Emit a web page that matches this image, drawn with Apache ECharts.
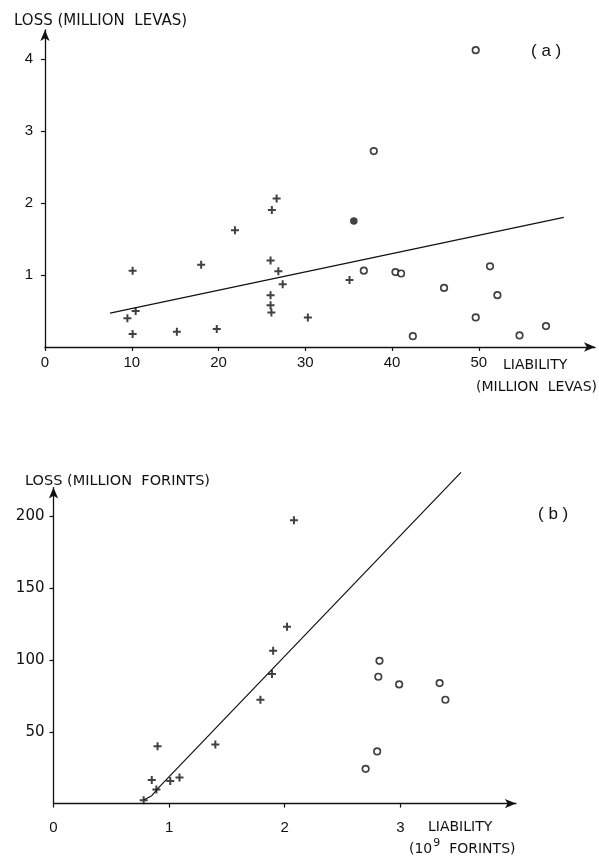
<!DOCTYPE html>
<html>
<head>
<meta charset="utf-8">
<script src="https://cdn.jsdelivr.net/npm/echarts@6/dist/echarts.min.js"></script>
<style>
html,body{margin:0;padding:0;background:#fff;}
#c{width:599px;height:863px;}
</style>
</head>
<body>
<div id="c"></div>
<script>
// ---- Panel (a): Bulgaria, million levas ----
const crossA = [
  [9.5,0.40],[10.1,0.18],[10.1,1.06],[10.45,0.50],[15.2,0.21],[18.0,1.14],
  [19.8,0.25],[21.9,1.62],[26.0,1.20],[26.15,1.90],[26.7,2.06],[26.9,1.05],
  [26.0,0.72],[26.0,0.58],[26.1,0.48],[27.4,0.87],[30.3,0.41],[35.1,0.93]
];
const filledA = [[35.6,1.75]];
const openA = [
  [36.75,1.06],[37.9,2.72],[40.4,1.04],[41.05,1.02],[42.4,0.15],[46.0,0.82],
  [49.65,4.12],[49.65,0.41],[51.3,1.12],[52.15,0.72],[54.7,0.16],[57.75,0.29]
];
const lineA = [[7.5,0.47],[59.8,1.80]];
const xTicksA = [0,10,20,30,40,50];
const yTicksA = [1,2,3,4];

// ---- Panel (b): Hungary, million forints ----
const crossB = [
  [0.78,2.4],[0.85,16.4],[0.89,9.9],[0.90,40],[1.01,15.7],[1.09,18.2],
  [1.40,41.2],[1.79,72.3],[1.89,90.2],[1.90,106.4],[2.02,123.1],[2.08,197.2]
];
const openB = [
  [2.82,99.4],[2.81,88.3],[2.99,83.0],[3.34,83.9],[3.39,72.3],[2.80,36.3],[2.70,24.2]
];
const lineB = [[0.78,2.5],[0.85,5.5],[0.92,12],[3.525,230.6]];
const xTicksB = [0,1,2,3];
const yTicksB = [50,100,150,200];

const INK = '#111';
const FONT = 'Liberation Sans';
const plus = 'path://M3,0H5V3H8V5H5V8H3V5H0V3H3Z';

function axisCommon(ticks, margin, min, max, font, size) {
  return {
    type: 'value', min: min, max: max,
    splitLine: {show: false},
    axisLine: {show: true, onZero: false, symbol: ['none','arrow'], symbolSize: [7,11],
      lineStyle: {color: INK, width: 1.3}},
    axisTick: {show: true, length: 4, customValues: ticks, lineStyle: {color: INK, width: 1.2}},
    axisLabel: {show: true, customValues: ticks, margin: margin, color: INK,
      fontFamily: font || FONT, fontSize: size || 15}
  };
}

const titleFont = '14px "DejaVu Sans"';

const chart = echarts.init(document.getElementById('c'));
chart.setOption({
  backgroundColor: '#fff',
  animation: false,
  grid: [
    {left: 45, top: 30, width: 550, height: 317},
    {left: 53.5, top: 487.6, width: 462.4, height: 316}
  ],
  xAxis: [
    Object.assign(axisCommon(xTicksA, 8, 0, 63.4), {gridIndex: 0}),
    Object.assign(axisCommon(xTicksB, 17, 0, 4), {gridIndex: 1})
  ],
  yAxis: [
    Object.assign(axisCommon(yTicksA, 12, 0, 4.4), {gridIndex: 0}),
    Object.assign(axisCommon(yTicksB, 9, 0, 220, 'DejaVu Sans', 15), {gridIndex: 1})
  ],
  series: [
    {type: 'line', xAxisIndex: 0, yAxisIndex: 0, data: lineA, showSymbol: false, clip: false,
      lineStyle: {color: INK, width: 1.2}, silent: true},
    {type: 'scatter', xAxisIndex: 0, yAxisIndex: 0, data: crossA, symbol: plus, symbolSize: 8,
      itemStyle: {color: INK}},
    {type: 'scatter', xAxisIndex: 0, yAxisIndex: 0, data: openA, symbol: 'circle', symbolSize: 6.5,
      itemStyle: {color: '#fff', borderColor: INK, borderWidth: 1.7}},
    {type: 'scatter', xAxisIndex: 0, yAxisIndex: 0, data: filledA, symbol: 'circle', symbolSize: 7.5,
      itemStyle: {color: INK}},
    {type: 'line', xAxisIndex: 1, yAxisIndex: 1, data: lineB, showSymbol: false, clip: false,
      lineStyle: {color: INK, width: 1.2}, silent: true},
    {type: 'scatter', xAxisIndex: 1, yAxisIndex: 1, data: crossB, symbol: plus, symbolSize: 8,
      itemStyle: {color: INK}},
    {type: 'scatter', xAxisIndex: 1, yAxisIndex: 1, data: openB, symbol: 'circle', symbolSize: 6.5,
      itemStyle: {color: '#fff', borderColor: INK, borderWidth: 1.7}}
  ],
  graphic: [
    {type: 'text', x: 14, y: 21, style: {text: 'LOSS (MILLION  LEVAS)', fill: INK,
      font: '15px "DejaVu Sans"', textVerticalAlign: 'middle'}},
    {type: 'text', x: 531, y: 51, style: {text: '( a )', fill: INK,
      font: '17px "Liberation Sans"', textVerticalAlign: 'middle'}},
    {type: 'text', x: 503, y: 365, style: {text: 'LIABILITY', fill: INK,
      font: titleFont, textVerticalAlign: 'middle'}},
    {type: 'text', x: 597, y: 387, style: {text: '(MILLION  LEVAS)', fill: INK,
      font: titleFont, textAlign: 'right', textVerticalAlign: 'middle'}},
    {type: 'text', x: 25, y: 481, style: {text: 'LOSS (MILLION  FORINTS)', fill: INK,
      font: '14.5px "DejaVu Sans"', textVerticalAlign: 'middle'}},
    {type: 'text', x: 538, y: 514, style: {text: '( b )', fill: INK,
      font: '17px "Liberation Sans"', textVerticalAlign: 'middle'}},
    {type: 'text', x: 428, y: 827, style: {text: 'LIABILITY', fill: INK,
      font: titleFont, textVerticalAlign: 'middle'}},
    {type: 'text', x: 409, y: 838, style: {
      text: '{a|(10}{s|9}{a|  FORINTS)}',
      rich: {
        a: {fill: INK, fontFamily: 'DejaVu Sans', fontSize: 14, verticalAlign: 'bottom', lineHeight: 18},
        s: {fill: INK, fontFamily: 'DejaVu Sans', fontSize: 11, verticalAlign: 'top', lineHeight: 18, padding: [0, 0, 6, 1]}
      }}}
  ]
});
</script>
</body>
</html>
